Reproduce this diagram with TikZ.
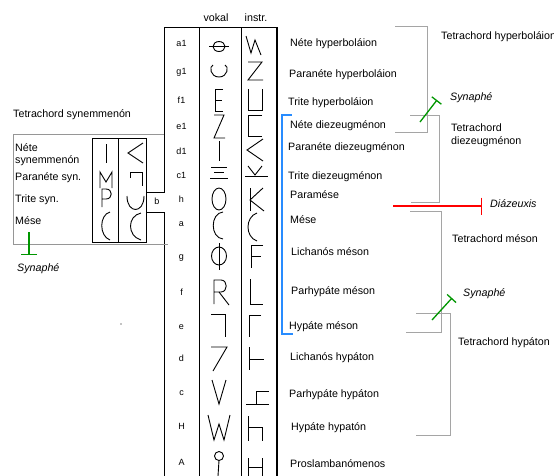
\documentclass[tikz,border=0pt]{standalone}
\usepackage{fontspec}
\setmainfont{Liberation Sans}
\usetikzlibrary{arrows.meta}

\newcommand{\lblsize}{\fontsize{10.7}{12.7}\selectfont}
\newcommand{\notesize}{\fontsize{9}{11}\selectfont}

\definecolor{brgray}{RGB}{165,165,165}
\definecolor{boxgray}{RGB}{150,150,150}
\definecolor{syngreen}{RGB}{0,150,0}
\definecolor{diared}{RGB}{255,0,0}
\definecolor{diezblue}{RGB}{40,140,255}

\tikzset{
	lbl/.style = {font=\lblsize, inner sep=0pt, anchor=west, text height=7.5pt, text depth=0pt},
	lbltwo/.style = {font=\lblsize, inner sep=0pt, anchor=west, align=left},
	note/.style = {font=\notesize, inner sep=0pt, text height=6.5pt, text depth=0pt},
	hint/.style = {lbl, font=\lblsize\itshape},
	glyph/.style = {line width=0.9pt},
	bracket/.style = {draw=brgray, line width=1pt},
	synline/.style = {draw=syngreen, line width=1.3pt},
}

\begin{document}
\begin{tikzpicture}[x=1pt, y=-1pt]
	\useasboundingbox (0,0) rectangle (554,475);
	\begin{scope}[line width=0.8pt]
		\draw (164,27) -- (277,27);
		\draw (164,27) -- (164,192) -- (146,192);
		\draw (146,212) -- (164,212) -- (164,476);
		\draw (199,27) -- (199,476);
		\draw (241,27) -- (241,476);
		\draw [line width=1.3pt] (277,27) -- (277,476);
		\draw (92,138) rectangle (146,242);
		\draw (118,138) -- (118,242);
	\end{scope}
	\draw [boxgray, line width=0.8pt] (164,134) -- (13,134) -- (13,244) -- (168,244);

	\node [lbl, anchor=center] (vokal) at (216,18) {vokal};
	\node [lbl, anchor=center] (instr) at (256,18) {instr.};
	\foreach \name/\y in {a1/43, g1/71, f1/100, e1/126, d1/151, c1/175, h/199, a/223,
		g/256, f/292, e/326, d/358, c/392, H/426, A/462}
		\node [note] (note-\name) at (181.5,\y) {\name};
	\node [note] (note-b) at (157,201) {b};

	\begin{scope}[glyph]
		\draw (219,46.5) ellipse (6 and 5);
		\draw (209,46.5) -- (229,46.5);
		\draw (246,36) -- (251,53) -- (255,40) -- (261,55);

		\draw (213,65) .. controls (209,66) and (210,77) .. (219,77) .. controls (228,77) and (229,66) .. (225,65);
		\draw (248,62) -- (262,62) -- (248,80) -- (263,80);

		\draw (223,89) -- (215,89) -- (215,111) -- (223,111);
		\draw (215,100) -- (222,100);
		\draw (248,89) -- (248,110) -- (262,110) -- (262,89);

		\draw (214,115) -- (224,115) -- (214,138) -- (225,138);
		\draw (262,115) -- (248,115) -- (248,136) -- (262,136);

		\draw (219,141) -- (219,161);
		\draw (263,139) -- (247,150) -- (263,161);

		\draw (211,167) -- (227,167);
		\draw (214,172) -- (224,172);
		\draw (210,178) -- (228,178);
		\draw (248,166) -- (255,175) -- (262,166);
		\draw (245,176) -- (268,176);

		\draw (219,199) ellipse (7 and 11);
		\draw (250,188) -- (250,211);
		\draw (263,188) -- (250,200) -- (264,211);

		\draw (223,212) .. controls (210,213) and (210,238) .. (223,239);
		\draw (257,213) .. controls (245,217) and (245,237) .. (257,241);

		\draw (219,256) ellipse (7.5 and 9);
		\draw (219,243) -- (219,270);
		\draw (263,245) -- (251,245) -- (251,268);
		\draw (251,256) -- (261,256);

		\draw (214,304) -- (214,280) -- (221,280) .. controls (228,280) and (228,292) .. (221,292) -- (214,292);
		\draw (219,292) -- (229,305);
		\draw (250,279) -- (250,304) -- (263,304);

		\draw (211,314) -- (225,314) -- (225,337);
		\draw (261,315) -- (249,315) -- (249,337);

		\draw (211,347) -- (227,347) -- (213,371);
		\draw (249,347) -- (249,370);
		\draw (249,359) -- (264,359);

		\draw (212,380) -- (219,404) -- (226,380);
		\draw (246,404) -- (269,404);
		\draw (256,404) -- (256,391) -- (269,391);

		\draw (208,415) -- (214,440) -- (219,424) -- (224,440) -- (230,415);
		\draw (248,416) -- (248,441);
		\draw (248,427) -- (262,427) -- (262,441);

		\draw (219,456) circle (4.5);
		\draw (219,460.5) -- (218,476);
		\draw (248,458) -- (248,476);
		\draw (262,458) -- (262,476);
		\draw (248,467) -- (262,467);

		\draw (106,144) -- (106,163);
		\draw (100,188) -- (100,172) -- (106,182) -- (112,172) -- (112,188);
		\draw (102,207) -- (102,189) -- (106,189) .. controls (113,189) and (113,199) .. (106,199) -- (102,199);
		\draw (110,212) .. controls (99,215) and (99,236) .. (110,240);
		\draw (143,143) -- (128,153) -- (143,163);
		\draw (130,178) -- (130,172) -- (142,172) -- (142,186);
		\draw (127,196) .. controls (127,214) and (144,214) .. (144,196);
		\draw (141,213) .. controls (127,216) and (127,236) .. (141,240);
	\end{scope}

	\node [lbl] (syn-title) at (13,114) {Tetrachord synemmenón};
	\node [lbltwo] (syn-nete) at (15,155) {Néte\\[-1pt]synemmenón};
	\node [lbl] (syn-paranete) at (15,177) {Paranéte syn.};
	\node [lbl] (syn-trite) at (15,199) {Trite syn.};
	\node [lbl] (syn-mese) at (15,221) {Mése};

	\begin{scope}
		\node [lbl] (nete-hyp) at (290,43) {Néte hyperboláion};
		\node [lbl] (paranete-hyp) at (289,74) {Paranéte hyperboláion};
		\node [lbl] (trite-hyp) at (288,102) {Trite hyperboláion};
		\node [lbl] (nete-diez) at (290,125) {Néte diezeugménon};
		\node [lbl] (paranete-diez) at (288,147) {Paranéte diezeugménon};
		\node [lbl] (trite-diez) at (288,176) {Trite diezeugménon};
		\node [lbl] (paramese) at (290,195) {Paramése};
		\node [lbl] (mese) at (290,220) {Mése};
		\node [lbl] (lichanos-mes) at (291,252) {Lichanós méson};
		\node [lbl] (parhypate-mes) at (291,291) {Parhypáte méson};
		\node [lbl] (hypate-mes) at (289,326) {Hypáte méson};
		\node [lbl] (lichanos-hyp) at (290,357) {Lichanós hypáton};
		\node [lbl] (parhypate-hyp) at (289,394) {Parhypáte hypáton};
		\node [lbl] (hypate-hyp) at (291,427) {Hypáte hypatón};
		\node [lbl] (proslamb) at (290,464) {Proslambanómenos};
	\end{scope}

	\begin{scope}[bracket]
		\draw (395,26) -- (427,26) -- (427,132) -- (395,132);
		\draw (410,115) -- (439,115) -- (439,202) -- (411,202);
		\draw (410,211) -- (441,211) -- (441,332) -- (406,332);
		\draw (416,313) -- (450,313) -- (450,435) -- (416,435);
	\end{scope}
	\begin{scope}[diezblue, line width=1.2pt]
		\draw (282,115) -- (282,334);
		\draw (281.4,115) -- (292,115);
		\draw (281.4,334) -- (293,334);
	\end{scope}

	\node [lbl] (tc-hyperbol) at (441,36) {Tetrachord hyperboláion};
	\node [lbltwo] (tc-diez) at (451,135.5) {Tetrachord\\diezeugménon};
	\node [lbl] (tc-meson) at (452,239) {Tetrachord méson};
	\node [lbl] (tc-hypaton) at (458,342) {Tetrachord hypáton};

	\begin{scope}[synline]
		\draw [-{Bar[width=12pt]}] (420,122) -- (437,100);
		\draw [-{Bar[width=12pt]}] (432,320) -- (452,298);
		\draw [-{Bar[width=16pt]}] (29,232) -- (29,255);
	\end{scope}
	\draw [diared, line width=1.5pt, -{Bar[width=17pt]}] (393,206) -- (482,206);

	\node [hint] (synaphe-hyp) at (450,97) {Synaphé};
	\node [hint] (synaphe-mes) at (463,293) {Synaphé};
	\node [hint] (synaphe-syn) at (17,268) {Synaphé};
	\node [hint] (diazeuxis) at (490,204) {Diázeuxis};

	\fill (121,324) circle (0.7);
\end{tikzpicture}
\end{document}
